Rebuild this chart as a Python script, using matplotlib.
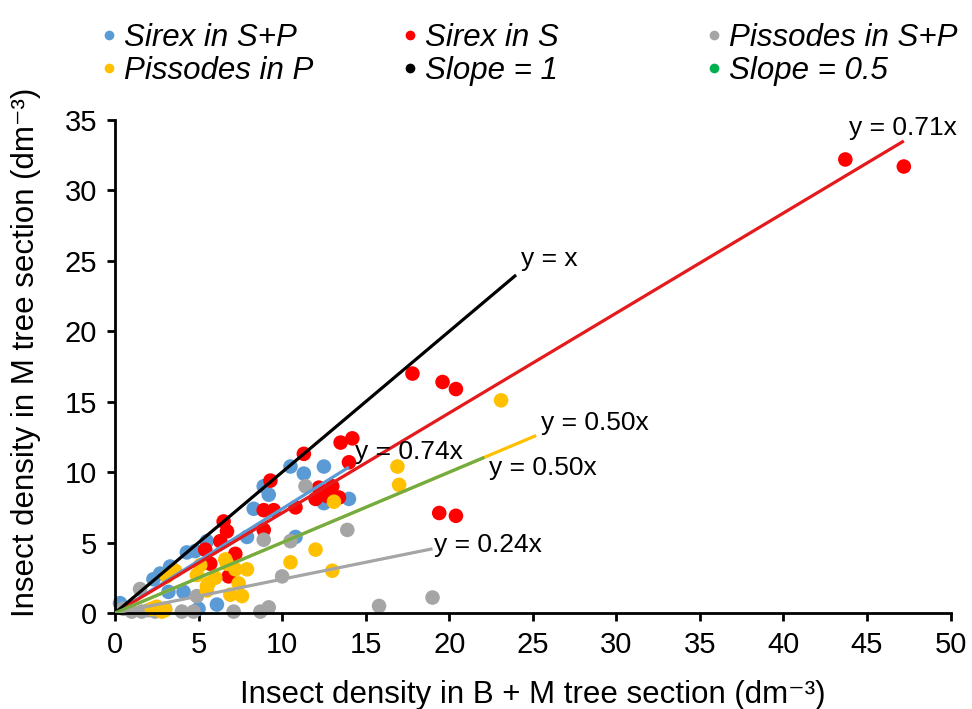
"""Insect density in M section vs B + M section, with fitted slopes."""

from __future__ import annotations

import matplotlib

matplotlib.use("Agg")
import matplotlib.pyplot as plt
import numpy as np
from matplotlib.lines import Line2D

plt.rcParams["font.family"] = ["Liberation Sans", "DejaVu Sans"]

# Sirex in S+P
SIREX_SP_X = [0.3, 2.3, 2.7, 3.2, 3.3, 4.1, 4.3, 4.8, 5.0, 5.5, 6.1, 7.9, 8.3,
              8.9, 9.2, 10.5, 10.8, 11.3, 12.5, 12.5, 14.0]
SIREX_SP_Y = [0.7, 2.4, 2.8, 1.5, 3.3, 1.5, 4.3, 4.4, 0.3, 5.1, 0.6, 5.4, 7.4,
              9.0, 8.4, 10.4, 5.4, 9.9, 10.4, 7.8, 8.1]

# Sirex in S
SIREX_S_X = [43.7, 47.2, 17.8, 19.6, 20.4, 19.4, 20.4, 13.5, 14.2, 14.0, 11.3,
             9.3, 6.5, 6.7, 6.3, 5.4, 5.7, 7.2, 6.8, 8.9, 9.5, 8.9, 10.8, 12.2,
             13.0, 12.0, 12.7, 13.4]
SIREX_S_Y = [32.2, 31.7, 17.0, 16.4, 15.9, 7.1, 6.9, 12.1, 12.4, 10.7, 11.3,
             9.4, 6.5, 5.8, 5.1, 4.5, 3.5, 4.2, 2.6, 7.3, 7.3, 5.9, 7.5, 8.9,
             9.0, 8.1, 8.3, 8.2]

# Pissodes in S+P
PISS_SP_X = [0.5, 1.0, 1.5, 1.6, 2.0, 2.4, 3.0, 4.0, 4.7, 4.9, 7.1, 8.7, 9.2,
             8.9, 10.0, 10.5, 11.4, 13.9, 15.8, 19.0]
PISS_SP_Y = [0.3, 0.1, 1.7, 0.1, 0.2, 0.1, 0.3, 0.1, 0.1, 1.2, 0.1, 0.1, 0.4,
             5.2, 2.6, 5.1, 9.0, 5.9, 0.5, 1.1]

# Pissodes in P
PISS_P_X = [23.1, 16.9, 17.0, 13.1, 13.0, 12.0, 10.5, 3.6, 3.1, 4.9, 5.5, 6.0,
            6.6, 7.2, 7.9, 7.4, 6.9, 7.6, 5.1, 2.5, 2.8, 3.0, 5.6, 6.7, 5.5, 2.2]
PISS_P_Y = [15.1, 10.4, 9.1, 7.9, 3.0, 4.5, 3.6, 3.0, 2.6, 2.7, 1.9, 2.5,
            3.8, 3.1, 3.1, 2.1, 1.3, 1.2, 3.4, 0.45, 0.1, 0.2, 2.1, 3.5, 1.6, 0.3]

# fitted lines: (slope, x end, colour, label, label x, label y)
FITS = [
    (0.74, 14.0, "#5B9BD5", "y = 0.74x", 14.35, 11.4),
    (0.71, 47.2, "#E41A1C", "y = 0.71x", 43.9, 34.4),
    (0.24, 19.0, "#A5A5A5", "y = 0.24x", 19.1, 4.8),
    (0.50, 25.2, "#FFC000", "y = 0.50x", 25.5, 13.5),
    (1.00, 24.0, "#000000", "y = x", 24.3, 25.1),
    (0.50, 22.1, "#70AD47", "y = 0.50x", 22.4, 10.3),
]

SERIES = [
    ("Sirex in S+P", "#5B9BD5", SIREX_SP_X, SIREX_SP_Y),
    ("Sirex in S", "#FF0000", SIREX_S_X, SIREX_S_Y),
    ("Pissodes in S+P", "#A5A5A5", PISS_SP_X, PISS_SP_Y),
    ("Pissodes in P", "#FFC000", PISS_P_X, PISS_P_Y),
]

# legend columns, each listed top to bottom
LEGEND_COLUMNS = [
    [("Sirex in S+P", "#5B9BD5"), ("Pissodes in P", "#FFC000")],
    [("Sirex in S", "#FF0000"), ("Slope = 1", "#000000")],
    [("Pissodes in S+P", "#A5A5A5"), ("Slope = 0.5", "#00B050")],
]
LEGEND_X = [0.1073, 0.417, 0.7297]


def main() -> None:
    fig = plt.figure(figsize=(9.72, 7.09), dpi=100)
    ax = fig.add_axes([0.1183, 0.1354, 0.8597, 0.6953])

    for name, color, xs, ys in SERIES:
        ax.scatter(xs, ys, s=110, color=color, edgecolors="none", zorder=2,
                   clip_on=False)

    for slope, x_end, color, label, tx, ty in FITS:
        xs = np.array([0.0, x_end])
        ax.plot(xs, slope * xs, color=color, linewidth=2.3, zorder=3,
                solid_capstyle="butt")
        ax.text(tx, ty, label, fontsize=19, ha="left", va="center", zorder=4)

    ax.set_xlim(0, 50)
    ax.set_ylim(0, 35)
    ax.set_xticks(np.arange(0, 51, 5))
    ax.set_yticks(np.arange(0, 36, 5))
    ax.tick_params(direction="out", length=6, width=2, labelsize=21, pad=7)
    for side in ("top", "right"):
        ax.spines[side].set_visible(False)
    for side in ("left", "bottom"):
        ax.spines[side].set_linewidth(2)

    ax.set_xlabel("Insect density in B + M tree section (dm\u207b\u00b3)",
                  fontsize=22.5, labelpad=15)
    ax.set_ylabel("Insect density in M tree section (dm\u207b\u00b3)",
                  fontsize=22.5)
    ax.yaxis.set_label_coords(-0.0885, 0.529)

    for col_x, entries in zip(LEGEND_X, LEGEND_COLUMNS):
        handles = [
            Line2D([], [], marker="o", linestyle="none", markersize=7,
                   markerfacecolor=c, markeredgecolor="none", label=n)
            for n, c in entries
        ]
        fig.legend(handles=handles, loc="upper left",
                   bbox_to_anchor=(col_x, 0.968), frameon=False,
                   prop={"style": "italic", "size": 22.5},
                   handlelength=0.3, handletextpad=0.33, labelspacing=0.1,
                   borderpad=0, borderaxespad=0)

    fig.savefig("out.png", dpi=100)
    plt.close(fig)


if __name__ == "__main__":
    main()
